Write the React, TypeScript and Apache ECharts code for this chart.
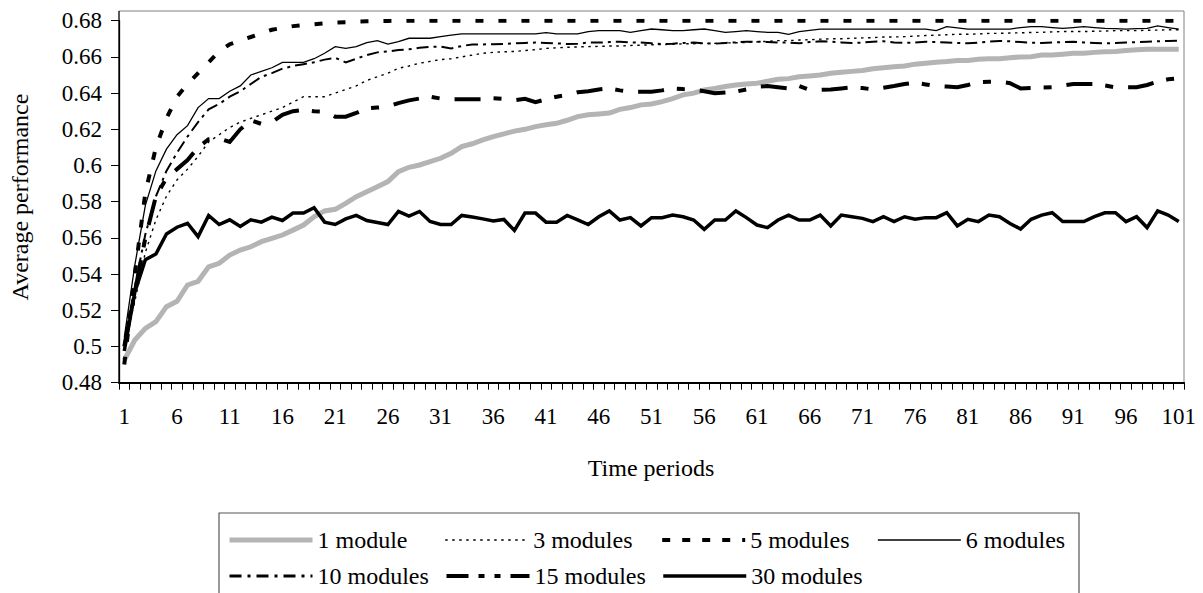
import React, { useEffect, useRef } from "react";
import * as echarts from "echarts";

const periods = [
  "1","2","3","4","5","6","7","8","9","10","11","12","13","14","15","16","17","18","19","20",
  "21","22","23","24","25","26","27","28","29","30","31","32","33","34","35","36","37","38","39","40",
  "41","42","43","44","45","46","47","48","49","50","51","52","53","54","55","56","57","58","59","60",
  "61","62","63","64","65","66","67","68","69","70","71","72","73","74","75","76","77","78","79","80",
  "81","82","83","84","85","86","87","88","89","90","91","92","93","94","95","96","97","98","99","100","101",
];

const module1 = [
  0.4925, 0.5036, 0.510, 0.5137, 0.522, 0.525, 0.534, 0.536, 0.544, 0.546,
  0.5505, 0.5533, 0.5551, 0.5579, 0.5597, 0.5616, 0.5643, 0.5671, 0.5717, 0.5749,
  0.5758, 0.5791, 0.5828, 0.5855, 0.5883, 0.5911, 0.5966, 0.599, 0.6003, 0.6021,
  0.604, 0.6067, 0.6104, 0.612, 0.6141, 0.616, 0.6175, 0.619, 0.620, 0.6215,
  0.6225, 0.6233, 0.625, 0.627, 0.628, 0.6285, 0.629, 0.631, 0.632, 0.6335,
  0.634, 0.6353, 0.637, 0.639, 0.640, 0.6417, 0.6425, 0.6436, 0.6445, 0.645,
  0.6455, 0.6465, 0.6476, 0.648, 0.649, 0.6495, 0.650, 0.651, 0.6515, 0.652,
  0.6525, 0.6535, 0.654, 0.6545, 0.655, 0.656, 0.6565, 0.657, 0.6574, 0.658,
  0.658, 0.6587, 0.659, 0.659, 0.6595, 0.660, 0.6601, 0.661, 0.661, 0.6615,
  0.662, 0.662, 0.6625, 0.6629, 0.663, 0.6635, 0.664, 0.6642, 0.6642, 0.6642, 0.6642,
];

const modules3 = [
  0.500, 0.525, 0.552, 0.570, 0.583, 0.592, 0.598, 0.605, 0.613, 0.617,
  0.621, 0.624, 0.626, 0.628, 0.630, 0.632, 0.635, 0.638, 0.638, 0.638,
  0.640, 0.642, 0.644, 0.647, 0.649, 0.651, 0.6537, 0.655, 0.6565, 0.6575,
  0.6585, 0.659, 0.660, 0.661, 0.662, 0.6625, 0.6628, 0.663, 0.6635, 0.664,
  0.6647, 0.665, 0.6653, 0.6655, 0.6657, 0.6658, 0.666, 0.666, 0.6663, 0.6665,
  0.6667, 0.6668, 0.667, 0.6672, 0.6673, 0.6675, 0.6675, 0.6677, 0.6678, 0.668,
  0.6683, 0.6686, 0.669, 0.669, 0.6693, 0.6695, 0.6698, 0.670, 0.670, 0.6703,
  0.6705, 0.6706, 0.671, 0.671, 0.6712, 0.6715, 0.6718, 0.672, 0.6722, 0.6725,
  0.6725, 0.6727, 0.673, 0.673, 0.6732, 0.6733, 0.6735, 0.6736, 0.6738, 0.674,
  0.674, 0.674, 0.6742, 0.6743, 0.6745, 0.6745, 0.6745, 0.6747, 0.6748, 0.675, 0.675,
];

const modules5 = [
  0.490, 0.540, 0.585, 0.610, 0.626, 0.638, 0.645, 0.651, 0.657, 0.663,
  0.667, 0.669, 0.671, 0.673, 0.675, 0.676, 0.677, 0.6775, 0.678, 0.6785,
  0.679, 0.6792, 0.6795, 0.6797, 0.6798, 0.6799, 0.680, 0.680, 0.680, 0.680,
  0.680, 0.680, 0.680, 0.680, 0.680, 0.680, 0.680, 0.680, 0.680, 0.680,
  0.680, 0.680, 0.680, 0.680, 0.680, 0.680, 0.680, 0.680, 0.680, 0.680,
  0.680, 0.680, 0.680, 0.680, 0.680, 0.680, 0.680, 0.680, 0.680, 0.680,
  0.680, 0.680, 0.680, 0.680, 0.680, 0.680, 0.680, 0.680, 0.680, 0.680,
  0.680, 0.680, 0.680, 0.680, 0.680, 0.680, 0.680, 0.680, 0.680, 0.680,
  0.680, 0.680, 0.680, 0.680, 0.680, 0.680, 0.680, 0.680, 0.680, 0.680,
  0.680, 0.680, 0.680, 0.680, 0.680, 0.680, 0.680, 0.680, 0.680, 0.680, 0.680,
];

const modules6 = [
  0.505, 0.545, 0.578, 0.597, 0.609, 0.617, 0.622, 0.632, 0.637, 0.637,
  0.641, 0.644, 0.650, 0.652, 0.654, 0.657, 0.657, 0.657, 0.659, 0.662,
  0.6657, 0.6647, 0.6657, 0.6679, 0.669, 0.6671, 0.6685, 0.6703, 0.6703, 0.6703,
  0.6712, 0.672, 0.6727, 0.6727, 0.6727, 0.6727, 0.6727, 0.6727, 0.6727, 0.6727,
  0.6734, 0.6727, 0.6727, 0.6727, 0.674, 0.6745, 0.6745, 0.6745, 0.6736, 0.6745,
  0.6754, 0.675, 0.6745, 0.6745, 0.675, 0.6754, 0.6745, 0.6736, 0.674, 0.6745,
  0.674, 0.6736, 0.6736, 0.6725, 0.674, 0.6747, 0.6754, 0.6754, 0.6754, 0.6754,
  0.6754, 0.6754, 0.6754, 0.6754, 0.6754, 0.6754, 0.6754, 0.6745, 0.6767, 0.676,
  0.6754, 0.6754, 0.6754, 0.6754, 0.6754, 0.6762, 0.6767, 0.6767, 0.6762, 0.6758,
  0.6762, 0.6767, 0.6762, 0.6758, 0.6756, 0.6754, 0.6756, 0.6758, 0.6771, 0.6762, 0.6754,
];

const modules10 = [
  0.502, 0.533, 0.562, 0.583, 0.597, 0.607, 0.616, 0.624, 0.631, 0.634,
  0.638, 0.641, 0.645, 0.649, 0.651, 0.6535, 0.655, 0.656, 0.657, 0.6585,
  0.6595, 0.657, 0.659, 0.661, 0.6625, 0.663, 0.6638, 0.6642, 0.665, 0.6655,
  0.6657, 0.6647, 0.666, 0.6669, 0.6669, 0.667, 0.6672, 0.6675, 0.6677, 0.6679,
  0.6677, 0.6675, 0.6671, 0.6673, 0.6679, 0.6679, 0.6682, 0.6684, 0.668, 0.6679,
  0.6675, 0.6671, 0.6673, 0.6677, 0.6679, 0.6675, 0.6673, 0.6677, 0.668, 0.6684,
  0.6684, 0.6682, 0.668, 0.6679, 0.6675, 0.6682, 0.6686, 0.6684, 0.668, 0.6677,
  0.6679, 0.6684, 0.6686, 0.668, 0.6677, 0.6679, 0.6684, 0.6682, 0.6679, 0.6677,
  0.6675, 0.6679, 0.6684, 0.6688, 0.6686, 0.6682, 0.6679, 0.6677, 0.6679, 0.6682,
  0.6684, 0.668, 0.6677, 0.6675, 0.6677, 0.6679, 0.6682, 0.6684, 0.6686, 0.6688, 0.669,
];

const modules15 = [
  0.500, 0.530, 0.560, 0.583, 0.593, 0.598, 0.603, 0.610, 0.6145, 0.615,
  0.613, 0.620, 0.625, 0.623, 0.624, 0.628, 0.630, 0.6307, 0.630, 0.6298,
  0.627, 0.627, 0.629, 0.6316, 0.632, 0.6325, 0.6345, 0.636, 0.637, 0.638,
  0.637, 0.6366, 0.6366, 0.6366, 0.6366, 0.6371, 0.6368, 0.636, 0.6368, 0.635,
  0.6366, 0.638, 0.639, 0.6405, 0.641, 0.642, 0.6426, 0.6415, 0.6408, 0.6408,
  0.6408, 0.6415, 0.6426, 0.6422, 0.642, 0.641, 0.6399, 0.6403, 0.6408, 0.642,
  0.6435, 0.6439, 0.6432, 0.6426, 0.6439, 0.6417, 0.6418, 0.642, 0.6426, 0.6432,
  0.6428, 0.642, 0.643, 0.6439, 0.645, 0.6458, 0.6448, 0.6439, 0.6436, 0.6432,
  0.6445, 0.646, 0.6463, 0.6463, 0.6455, 0.6426, 0.6428, 0.643, 0.6432, 0.6442,
  0.645, 0.645, 0.645, 0.6442, 0.6432, 0.6432, 0.6432, 0.6445, 0.6463, 0.6476, 0.6482,
];

const modules30 = [
  0.4975, 0.530, 0.548, 0.5511, 0.5622, 0.5659, 0.5681, 0.5607, 0.5724, 0.5674,
  0.570, 0.5663, 0.570, 0.5687, 0.5715, 0.5696, 0.5737, 0.5737, 0.5767, 0.5687,
  0.5674, 0.5705, 0.5724, 0.5696, 0.5685, 0.5674, 0.5746, 0.572, 0.5746, 0.5691,
  0.5674, 0.5674, 0.5724, 0.5715, 0.5705, 0.5693, 0.5702, 0.5641, 0.5737, 0.5737,
  0.5687, 0.5687, 0.5724, 0.570, 0.5674, 0.5717, 0.5749, 0.5699, 0.5712, 0.5666,
  0.5712, 0.5712, 0.5726, 0.5717, 0.5699, 0.5647, 0.5699, 0.5699, 0.5749, 0.5712,
  0.5671, 0.5657, 0.5699, 0.5726, 0.5699, 0.5699, 0.5726, 0.5666, 0.5726, 0.5717,
  0.5708, 0.5690, 0.5717, 0.5690, 0.5717, 0.5703, 0.5712, 0.5712, 0.5739, 0.5666,
  0.5703, 0.5690, 0.5726, 0.5717, 0.5680, 0.5649, 0.5703, 0.5726, 0.5739, 0.5690,
  0.5690, 0.5690, 0.5717, 0.5739, 0.5739, 0.5690, 0.5717, 0.5657, 0.5749, 0.5726, 0.5690,
];

const seriesNames = ["1 module", "3 modules", "5 modules", "6 modules", "10 modules", "15 modules", "30 modules"];

const FONT = "Liberation Serif, Times New Roman, serif";

export default function App() {
  const ref = useRef<HTMLDivElement>(null);
  useEffect(() => {
    if (!ref.current) return;
    const chart = echarts.init(ref.current, undefined, { renderer: "svg" });
    const styles: { color: string; width: number; type: any }[] = [
      { color: "#b4b4b4", width: 5, type: "solid" },
      { color: "#000", width: 1.4, type: [2.5, 4.5] },
      { color: "#000", width: 4, type: [8, 15] },
      { color: "#000", width: 1.3, type: "solid" },
      { color: "#000", width: 2, type: [12, 5, 3, 5] },
      { color: "#000", width: 4, type: [26, 13, 8, 15] },
      { color: "#000", width: 3.5, type: "solid" },
    ];
    const datasets = [module1, modules3, modules5, modules6, modules10, modules15, modules30];
    const legendStyles: { width: number; type: any }[] = [
      { width: 5, type: "solid" },
      { width: 1.4, type: [2.5, 4.5] },
      { width: 4, type: [8, 12] },
      { width: 1.3, type: "solid" },
      { width: 3, type: [12, 6, 3, 6] },
      { width: 4, type: [22, 10, 6, 10, 6, 10] },
      { width: 3.5, type: "solid" },
    ];
    chart.setOption({
      animation: false,
      backgroundColor: "#ffffff",
      textStyle: { fontFamily: FONT },
      grid: { left: 119, right: 19, top: 20.7, bottom: 210.3, containLabel: false },
      xAxis: {
        type: "category",
        data: periods,
        boundaryGap: true,
        axisLine: { lineStyle: { color: "#000", width: 2 } },
        axisTick: { show: true, interval: 0, length: 7, lineStyle: { color: "#000", width: 1 } },
        axisLabel: { interval: 4, color: "#000", fontSize: 23, margin: 22, fontFamily: FONT },
        splitLine: { show: false },
      },
      yAxis: {
        type: "value",
        min: 0.48,
        max: 0.68,
        interval: 0.02,
        axisLine: { show: true, lineStyle: { color: "#000", width: 1.3 } },
        axisTick: { show: true, length: 8, lineStyle: { color: "#000", width: 1 } },
        axisLabel: {
          color: "#000",
          fontSize: 23,
          margin: 17,
          fontFamily: FONT,
          formatter: (v: number) => String(+v.toFixed(2)),
        },
        splitLine: { show: false },
      },
      legend: {
        data: seriesNames.map((n, i) => ({
          name: n,
          itemStyle: { opacity: 0 },
          lineStyle: { color: styles[i].color, width: legendStyles[i].width, type: legendStyles[i].type, cap: "butt" },
        })),
        left: 227,
        top: 528,
        width: 855,
        orient: "horizontal",
        padding: 0,
        itemWidth: 83,
        itemHeight: 14,
        itemGap: 12,
        selectedMode: false,
        itemStyle: { opacity: 0 },
        textStyle: { fontSize: 24, color: "#000", fontFamily: FONT, width: 115, lineHeight: 24 },
      },
      graphic: [
        { type: "line", shape: { x1: 119, y1: 11, x2: 1184, y2: 11 }, style: { stroke: "#808080", lineWidth: 1 }, silent: true },
        { type: "line", shape: { x1: 1184, y1: 11, x2: 1184, y2: 383 }, style: { stroke: "#808080", lineWidth: 1 }, silent: true },
        { type: "line", shape: { x1: 119, y1: 11, x2: 119, y2: 383 }, style: { stroke: "#000", lineWidth: 1.3 }, silent: true },
        { type: "rect", shape: { x: 219, y: 513, width: 860, height: 120 }, style: { stroke: "#555", fill: "none", lineWidth: 1.2 }, silent: true },
        {
          type: "text",
          x: 20,
          y: 197,
          rotation: Math.PI / 2,
          style: { text: "Average performance", fill: "#000", fontSize: 24, fontFamily: FONT, align: "center", verticalAlign: "middle", textAlign: "center", textVerticalAlign: "middle" },
          silent: true,
        },
        {
          type: "text",
          x: 651,
          y: 468,
          style: { text: "Time periods", fill: "#000", fontSize: 24, fontFamily: FONT, align: "center", verticalAlign: "middle", textAlign: "center", textVerticalAlign: "middle" },
          silent: true,
        },
      ],
      series: seriesNames.map((name, i) => ({
        name,
        type: "line",
        data: datasets[i],
        symbol: "none",
        showSymbol: false,
        color: styles[i].color,
        lineStyle: { color: styles[i].color, width: styles[i].width, type: styles[i].type, cap: "butt", join: "miter" },
        emphasis: { disabled: true },
      })),
    });
    return () => chart.dispose();
  }, []);
  return (
    <div
      ref={ref}
      style={{ position: "fixed", left: 0, top: 0, width: 1203, height: 593, background: "#fff" }}
    />
  );
}
